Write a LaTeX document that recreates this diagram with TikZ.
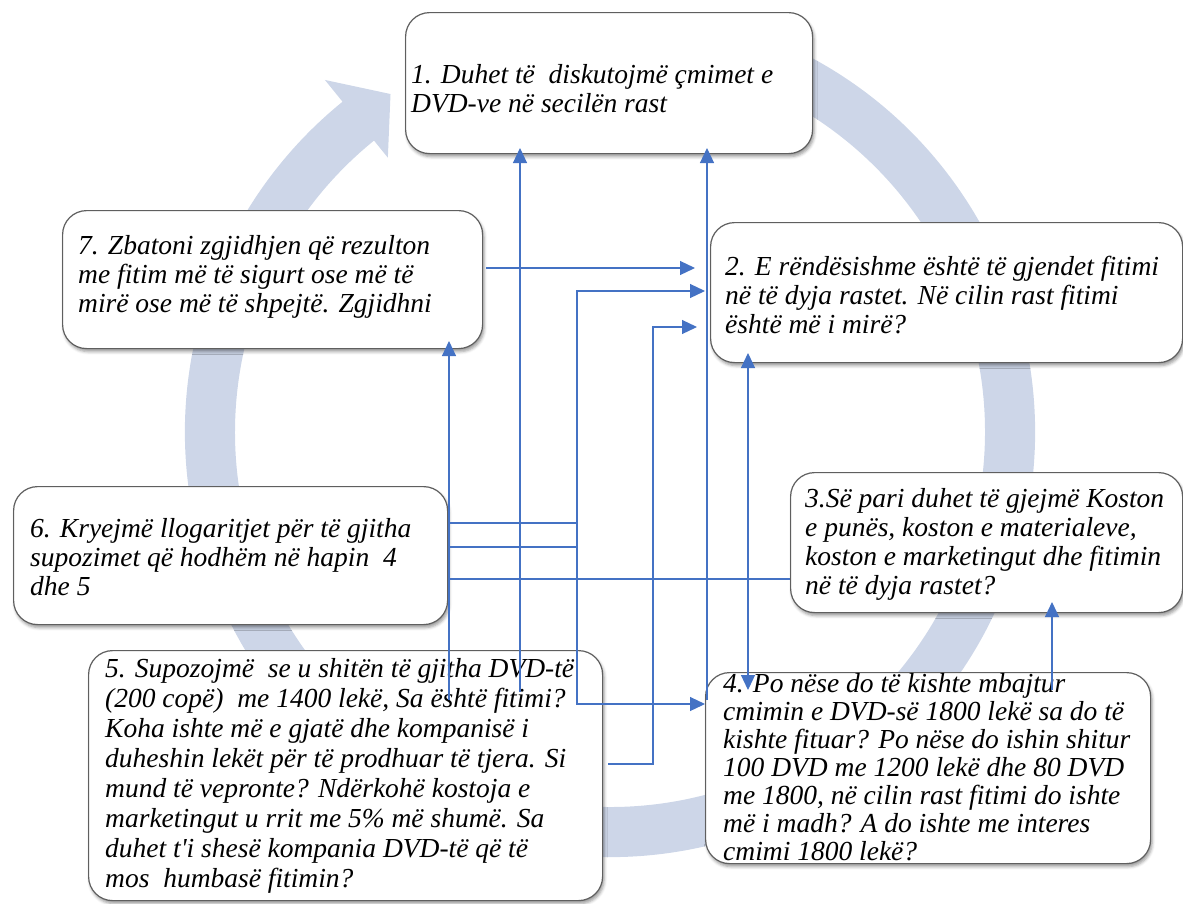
\documentclass[tikz,border=0pt]{standalone}
\usepackage{fontspec}
\setmainfont{Liberation Serif}
\usetikzlibrary{calc,arrows.meta,shadows.blur}
\definecolor{ringfill}{RGB}{205,214,232}
\definecolor{linkblue}{RGB}{68,114,196}
\definecolor{boxline}{RGB}{95,95,95}
\begin{document}
\begin{tikzpicture}[x=1pt,y=-1pt,
  >={Triangle[length=15pt,width=14pt]},
  stepbox/.style={draw=boxline, line width=1.2pt, fill=white,
    rounded corners=24pt, inner sep=0pt, anchor=north west,
    blur shadow={shadow xshift=1.5pt, shadow yshift=-3pt,
      shadow opacity=40, shadow blur radius=3pt}},
  steptext/.style={inner sep=0pt, anchor=north west, align=left,
    font=\itshape\fontsize{27.5}{29}\selectfont},
  link/.style={draw=linkblue, line width=1.2pt}]
\useasboundingbox (0,0) rectangle (1183,903);

% background cycle arrow
\coordinate (C) at (610,432);
\fill[ringfill] ($(C)+(-70:425)$) arc[start angle=-70, end angle=231, radius=425]
  -- ($(C)+(231:453)$) -- ($(C)+(237:403)$) -- ($(C)+(231:353)$)
  -- ($(C)+(231:375)$) arc[start angle=231, end angle=-70, radius=375] -- cycle;

% step boxes
\node[stepbox, minimum width=407pt, minimum height=141pt] (b1) at (405,12) {};
\node[stepbox, minimum width=420pt, minimum height=138pt] (b7) at (62,210) {};
\node[stepbox, minimum width=472pt, minimum height=140pt] (b2) at (710,222) {};
\node[stepbox, minimum width=434pt, minimum height=138pt] (b6) at (13,486) {};
\node[stepbox, minimum width=392pt, minimum height=140pt] (b3) at (790,472) {};
\node[stepbox, minimum width=514pt, minimum height=250pt] (b5) at (88,650) {};
\node[stepbox, minimum width=445pt, minimum height=191pt] (b4) at (705,672) {};

% texts
\node[steptext] (t1) at ([shift={(6,52)}]b1.north west)
  {1. Duhet të\ \ diskutojmë çmimet e\\DVD-ve në secilën rast};
\node[steptext] (t7) at ([shift={(16,25)}]b7.north west)
  {7. Zbatoni zgjidhjen që rezulton\\me fitim më të sigurt ose më të\\mirë ose më të shpejtë. Zgjidhni};
\node[steptext] (t2) at ([shift={(15,34)}]b2.north west)
  {2. E rëndësishme është të gjendet fitimi\\në të dyja rastet. Në cilin rast fitimi\\është më i mirë?};
\node[steptext] (t6) at ([shift={(17,32)}]b6.north west)
  {6. Kryejmë llogaritjet për të gjitha\\supozimet që hodhëm në hapin\ \ 4\\dhe 5};
\node[steptext] (t3) at ([shift={(15,16)}]b3.north west)
  {3.Së pari duhet të gjejmë Koston\\e punës, koston e materialeve,\\koston e marketingut dhe fitimin\\në të dyja rastet?};
\node[steptext, font=\itshape\fontsize{27.5}{30}\selectfont] (t5) at ([shift={(17,8)}]b5.north west)
  {5. Supozojmë\ \ se u shitën të gjitha DVD-të\\(200 copë)\ \ me 1400 lekë, Sa është fitimi?\\Koha ishte më e gjatë dhe kompanisë i\\duheshin lekët për të prodhuar të tjera. Si\\mund të vepronte? Ndërkohë kostoja e\\marketingut u rrit me 5\% më shumë. Sa\\duhet t\textquotesingle i shesë kompania DVD-të që të\\mos\ \ humbasë fitimin?};
\node[steptext, font=\itshape\fontsize{27.5}{28}\selectfont] (t4) at ([shift={(18,1)}]b4.north west)
  {4. Po nëse do të kishte mbajtur\\cmimin e DVD-së 1800 lekë sa do të\\kishte fituar? Po nëse do ishin shitur\\100 DVD me 1200 lekë dhe 80 DVD\\me 1800, në cilin rast fitimi do ishte\\më i madh? A do ishte me interes\\cmimi 1800 lekë?};

% routing points
\coordinate (j72) at (695,268);
\coordinate (k2) at (705,291);
\coordinate (k4) at (705,704);
\coordinate (kx) at (577,0);
\coordinate (h1) at (577,523);
\coordinate (h2) at (577,547);
\coordinate (m5) at (653,764);
\coordinate (m2) at (697,327);
\coordinate (n5) at (520,692);
\coordinate (n1) at (520,148);
\coordinate (p4) at (707,700);
\coordinate (p1) at (707,148);
\coordinate (q2) at (748,353);
\coordinate (q4) at (748,690);
\coordinate (s6) at (449,700);
\coordinate (s7) at (449,341);
\coordinate (u4) at (1052,690);
\coordinate (u3) at (1052,602);
\coordinate (w6) at (448,579);

% connectors
\draw[link,->] ([xshift=3pt]b7.east |- j72) -- (j72);
\draw[link,<->] (k2) -- (kx |- k2) -- (kx |- k4) -- (k4);
\draw[link] (b6.east |- h1) -- (h1);
\draw[link] (b6.east |- h2) -- (h2);
\draw[link,->] ([xshift=5pt]b5.east |- m5) -- (m5) -- (m5 |- m2) -- (m2);
\draw[link,->] (n5) -- (n1);
\draw[link,->] (p4) -- (p1);
\draw[link,<->] (q2) -- (q4);
\draw[link,->] (s6) -- (s7);
\draw[link,->] (u4) -- (u3);
\draw[link] (w6) -- (b3.west |- w6);
\end{tikzpicture}
\end{document}
